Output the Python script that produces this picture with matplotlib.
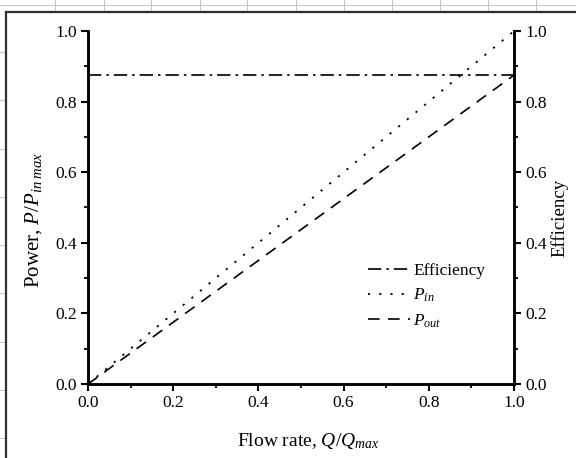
import matplotlib
matplotlib.use("Agg")
import matplotlib.pyplot as plt
from matplotlib.lines import Line2D
from matplotlib.ticker import MultipleLocator

plt.rcParams['font.family'] = ['Liberation Serif', 'DejaVu Serif']
plt.rcParams['mathtext.fontset'] = 'custom'
plt.rcParams['mathtext.rm'] = 'Liberation Serif'
plt.rcParams['mathtext.it'] = 'Liberation Serif:italic'

# Data
flow = [0.0, 1.0]
p_in = [0.0, 1.0]
p_out = [0.0, 0.875]
efficiency = [0.875, 0.875]

W, H = 576, 458
fig = plt.figure(figsize=(W/100, H/100), dpi=100)

# spreadsheet-like background decorations
for x in [55, 104, 151, 200, 247, 296, 344, 392, 440, 488, 536]:
    fig.add_artist(Line2D([x/W, x/W], [1, 1-11/H], color='#c8c8c8', lw=0.8))
fig.add_artist(Line2D([0, 1], [1-4.5/H, 1-4.5/H], color='#c8c8c8', lw=0.8))
for y in [52, 100, 149, 197, 245, 293, 342, 390, 438]:
    fig.add_artist(Line2D([0, 5/W], [1-y/H, 1-y/H], color='#c8c8c8', lw=0.8))
fig.add_artist(Line2D([6/W, 1], [1-12/H, 1-12/H], color='#303030', lw=1.6))
fig.add_artist(Line2D([6/W, 6/W], [0, 1-12/H], color='#303030', lw=1.6))

ax = fig.add_axes([88/W, (H-384)/H, (514-88)/W, (384-31)/H])
ax2 = ax.twinx()

ax.plot(flow, efficiency, color='black', lw=1.2, dashes=(8, 3, 1.5, 3), label='Efficiency')
ax.plot(flow, p_in, color='black', lw=1.3, dashes=(1.2, 5), label='$P_{in}$')
ax.plot(flow, p_out, color='black', lw=1.2, dashes=(7, 5), label='$P_{out}$')

for a in (ax, ax2):
    a.set_xlim(0, 1)
    a.set_ylim(0, 1)
    a.spines['top'].set_visible(False)
    for s in ('left', 'right', 'bottom'):
        a.spines[s].set_linewidth(1.8)
    a.yaxis.set_major_locator(MultipleLocator(0.2))
    a.yaxis.set_minor_locator(MultipleLocator(0.1))
    a.tick_params(axis='both', which='major', direction='out', length=5, width=1.5,
                  labelsize=12.5, pad=3)
    a.tick_params(axis='both', which='minor', direction='out', length=3, width=1.3)
ax.xaxis.set_major_locator(MultipleLocator(0.2))
ax.xaxis.set_minor_locator(MultipleLocator(0.1))
ax.yaxis.set_major_formatter(plt.FormatStrFormatter('%.1f'))
ax2.yaxis.set_major_formatter(plt.FormatStrFormatter('%.1f'))
ax.xaxis.set_major_formatter(plt.FormatStrFormatter('%.1f'))
ax.patch.set_visible(False)

# axis titles placed as in the reference
fig.text(308/W, 1-441/H, 'Flow rate, $Q/Q_{max}$', fontsize=14, ha='center', va='center')
fig.text(34/W, 1-220/H, 'Power, $P/P_{in\\ max}$', fontsize=15, ha='center', va='center',
         rotation=90)
fig.text(560/W, 1-218/H, 'Efficiency', fontsize=13.5, ha='center', va='center', rotation=90)

ax.legend(loc='upper left', bbox_to_anchor=(280/426, (384-263)/353), frameon=False,
          fontsize=12.5, handlelength=2.4, handletextpad=0.2, labelspacing=0.45,
          borderaxespad=0, borderpad=0)

fig.savefig('out.png', dpi=100)
